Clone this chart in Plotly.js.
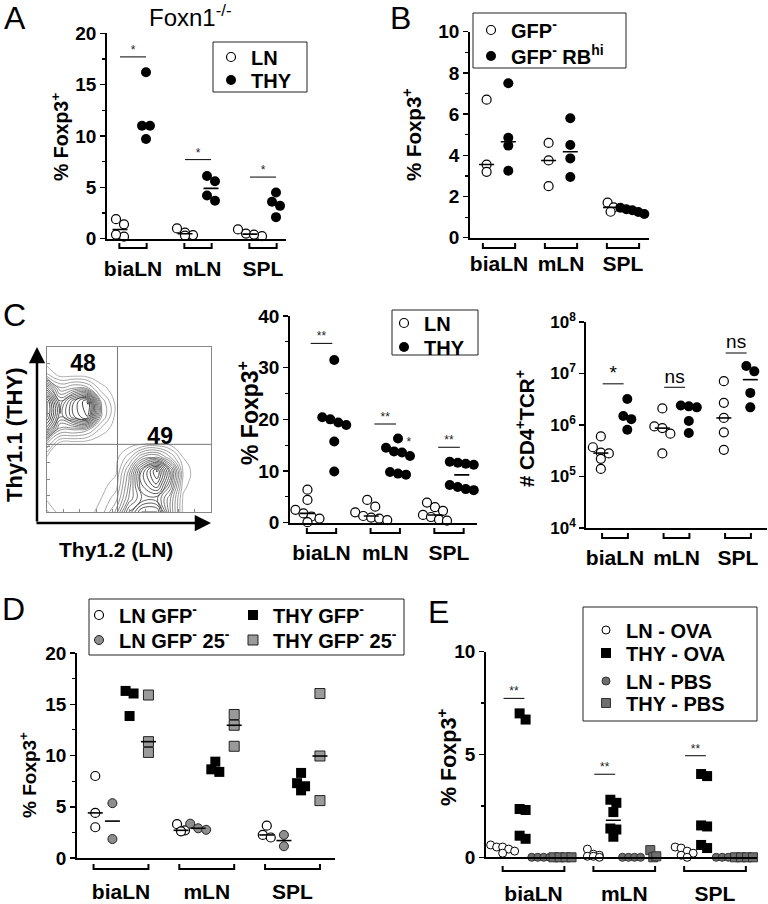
<!DOCTYPE html>
<html><head><meta charset="utf-8">
<script src="https://cdn.plot.ly/plotly-3.0.1.min.js"></script>
<style>html,body{margin:0;padding:0;background:#fff}#chart{width:768px;height:904px}</style>
</head><body><div id="chart"></div>
<script>
const W = 768, H = 904;
const F = '"Liberation Sans", Arial, Helvetica, sans-serif';

// ================= DATA =================
const cats = ['biaLN', 'mLN', 'SPL'];

// Panel A  (Foxn1-/-)  % Foxp3+
const A_LN  = [[1.4, 1.9, 0.2, 0.4], [0.6, 1.0, 0.35, 0.3], [0.5, 0.9, 0.25, 0.4]];
const A_THY = [[16.2, 11.0, 11.0, 9.7], [6.1, 5.6, 4.2, 3.7], [4.5, 3.6, 3.2, 2.1]];
const A_sig = [17.7, 7.7, 6.0];
const A_sigLabel = ['*', '*', '*'];

// Panel B  % Foxp3+
const B_GFPneg = [[6.7, 3.55, 3.2], [4.6, 3.75, 2.5], [1.7, 1.47, 1.26]];
const B_RBhi   = [[7.5, 4.85, 4.47, 3.25], [5.8, 4.5, 3.85, 2.95], [1.45, 1.38, 1.33, 1.25, 1.15]];

// Panel C (flow plot)
const C_flowX = [0, 8, 17, 25, 33, 42, 50, 58, 67, 75, 83, 92, 100];
const C_flowY = [0, 8, 17, 25, 33, 42, 50, 58, 67, 75, 83, 92, 100];
const C_flowZ = [
  [1.0, 0.1, 0.1, 0.2, 0.6, 2.0, 5.0, 7.0, 7.0, 3.0, 0.2, 0, 0],
  [0.3, 0, 0, 0.1, 0.4, 1.2, 3.5, 5.0, 5.0, 3.0, 0.3, 0, 0],
  [0.2, 0, 0, 0, 0.2, 0.6, 3.0, 6.0, 7.5, 4.5, 0.6, 0, 0],
  [0.2, 0, 0, 0, 0.1, 0.3, 2.5, 6.0, 8.5, 5.0, 0.8, 0, 0],
  [0.3, 0, 0, 0, 0, 0.2, 1.2, 3.0, 3.5, 2.0, 0.4, 0, 0],
  [2.0, 0.3, 0.2, 0.1, 0, 0, 0, 0.1, 0.2, 0.1, 0, 0, 0],
  [6.0, 2.5, 2.5, 2.0, 0.7, 0.1, 0, 0, 0, 0, 0, 0, 0],
  [8.0, 4.5, 6.5, 7.5, 2.0, 0.2, 0, 0, 0, 0, 0, 0, 0],
  [8.0, 4.0, 6.5, 8.0, 1.8, 0.2, 0, 0, 0, 0, 0, 0, 0],
  [5.0, 2.0, 2.5, 2.0, 0.6, 0.1, 0, 0, 0, 0, 0, 0, 0],
  [1.0, 0.2, 0.2, 0.1, 0, 0, 0, 0, 0, 0, 0, 0, 0],
  [0, 0, 0, 0, 0, 0, 0, 0, 0, 0, 0, 0, 0],
  [0, 0, 0, 0, 0, 0, 0, 0, 0, 0, 0, 0, 0]
];
const C_gateX = 43, C_gateY = 41;
const C_quadLabels = ['48', '49'];
const C_quadPos = [[22, 89], [69, 45]];

// Panel C (middle)  % Foxp3+
const C_LN  = [[6.4, 4.4, 2.5, 1.8, 1.2, 0.8, 0.1], [4.4, 3.1, 2.0, 1.3, 1.0, 0.8, 0.5], [3.9, 3.0, 2.3, 1.5, 1.1, 0.6, 0.4]];
const C_THY = [[31.5, 20.4, 20.0, 19.4, 18.9, 15.7, 9.9], [16.3, 14.5, 13.8, 13.6, 12.9, 9.8, 9.5, 9.3], [11.8, 11.6, 11.4, 11.2, 7.3, 6.9, 6.5, 6.3]];
const C_sig = [34.7, 19.1, 14.6];
const C_sigLabel = ['**', '**', '**'];

// Panel C (right)  # CD4+TCR+
const N_LN  = [[6.0e5, 3.7e5, 2.9e5, 2.8e5, 2.2e5, 1.4e5], [2.1e6, 9.4e5, 8.7e5, 6.8e5, 2.8e5], [7.1e6, 2.7e6, 1.37e6, 7.2e5, 3.3e5]];
const N_THY = [[3.2e6, 1.5e6, 1.3e6, 8.1e5], [2.4e6, 2.3e6, 2.2e6, 1.2e6, 7.0e5], [1.4e7, 1.1e7, 4.2e6, 2.2e6]];
const N_sig = [6.3e6, 5.4e6, 2.5e7];
const N_sigLabel = ['*', 'ns', 'ns'];
const N_tickVals = [1e4, 1e5, 1e6, 1e7, 1e8];
const N_tickText = ['10<sup>4</sup>', '10<sup>5</sup>', '10<sup>6</sup>', '10<sup>7</sup>', '10<sup>8</sup>'];

// Panel D  % Foxp3+
const D_LNgfp  = [[8.0, 4.4, 3.0], [3.3, 2.7, 2.6], [3.15, 2.25, 2.0]];
const D_LN25   = [[5.35, 1.85], [3.35, 2.9, 2.75], [2.25, 1.15]];
const D_THYgfp = [[16.3, 16.05, 13.85], [9.4, 8.65, 8.4], [8.3, 7.3, 7.0, 6.6]];
const D_THY25  = [[15.9, 11.35, 10.3], [14.0, 12.95, 10.9], [16.05, 9.95, 5.6]];

// Panel E  % Foxp3+
const E_LNova  = [[0.6, 0.5, 0.5, 0.4, 0.3, 0.2], [0.4, 0.15, 0.1, 0.05, 0.05, 0.0], [0.5, 0.45, 0.3, 0.2, 0.1, 0.0]];
const E_THYova = [[7.0, 6.7, 2.35, 2.3, 1.05, 0.9], [2.8, 2.65, 2.2, 1.4, 1.35, 1.0], [4.05, 3.95, 1.55, 1.5, 0.6, 0.45]];
const E_LNpbs  = [[0, 0, 0, 0], [0, 0, 0, 0], [0, 0, 0]];
const E_THYpbs = [[0, 0, 0, 0], [0.35, 0, 0.05], [0, 0, 0, 0]];
const E_sig = [7.73, 4.04, 4.94];
const E_sigLabel = ['**', '**', '**'];

// ================= GEOMETRY / STYLE =================
function fx(p) { return p / W; }
function fy(p) { return 1 - p / H; }

const G = {
  A:  {s: '',  xpx: [107, 286], ypx: [33.3, 238.7], c0: 133,   step: 65,    yr: [0, 20], dtick: 5,  minor: 2.5, dot: 8, bin: 7, brY: 248, brW: 0.21, lab: 10},
  B:  {s: '2', xpx: [470, 649], ypx: [31.7, 237.7], c0: 499,   step: 62,    yr: [0, 10], dtick: 2,  minor: 1,   dot: 6, bin: 7, brY: 248, brW: 0.26, lab: 6},
  C:  {s: '4', xpx: [290, 477], ypx: [316, 522.7],  c0: 321.5, step: 63.75, yr: [0, 40], dtick: 10, minor: 5,   dot: 8, bin: 9, brY: 533, brW: 0.23, lab: 10},
  N:  {s: '5', xpx: [586, 767], ypx: [322, 528],    c0: 615,   step: 61.5,  yr: [1e4, 1e8], log: true,        dot: 8, bin: 8, brY: 538, brW: 0.21, lab: 10},
  D:  {s: '6', xpx: [77, 335],  ypx: [653, 858],    c0: 121,   step: 85.75, yr: [0, 20], dtick: 5,  minor: 2.5, dot: 8, bin: 7, brY: 869, brW: 0.32, lab: 14},
  E:  {s: '7', xpx: [486, 757], ypx: [651.7, 857.3],c0: 533.5, step: 90.75, yr: [0, 10], dtick: 5,  minor: 2.5, dot: 6, bin: 7, brY: 871, brW: 0.34, lab: 17}
};
Object.values(G).forEach(g => {
  g.xa = 'x' + g.s; g.ya = 'y' + g.s;
  const span = g.log ? (Math.log10(g.yr[1]) - Math.log10(g.yr[0])) : (g.yr[1] - g.yr[0]);
  g.pyU = (g.ypx[1] - g.ypx[0]) / span;
  g.medHalf = 7.5;
});

const MK = {
  open:   {symbol: 'circle', size: 9,  color: '#fff', line: {color: '#000', width: 1.2}},
  fill:   {symbol: 'circle', size: 10, color: '#000', line: {color: '#000', width: 0}},
  grayC:  {symbol: 'circle', size: 9,  color: '#8e8e8e', line: {color: '#222', width: 1}},
  blackS: {symbol: 'square', size: 10, color: '#000', line: {color: '#000', width: 0}},
  grayS:  {symbol: 'square', size: 10, color: '#9a9a9a', line: {color: '#222', width: 1}},
  openE:  {symbol: 'circle', size: 8,  color: '#fff', line: {color: '#000', width: 1}},
  grayCE: {symbol: 'circle', size: 8,  color: '#6e6e6e', line: {color: '#333', width: 1}},
  graySE: {symbol: 'square', size: 9,  color: '#6e6e6e', line: {color: '#333', width: 1}}
};

function med(a) { const s = [...a].sort((x, y) => x - y); const n = s.length; return n % 2 ? s[(n - 1) / 2] : (s[n / 2 - 1] + s[n / 2]) / 2; }

// Prism-like column scatter: values in the same vertical bin are spread horizontally
function swarm(vals, center, g) {
  const toPx = v => (g.log ? Math.log10(Math.max(v, 1)) : v) * g.pyU;
  const order = vals.map((v, i) => i).sort((a, b) => vals[b] - vals[a]);
  const out = new Array(vals.length);
  const bins = []; let cur = [], top = null;
  order.forEach(i => {
    const p = toPx(vals[i]);
    if (top === null || top - p > g.bin) { if (cur.length) bins.push(cur); cur = [i]; top = p; }
    else cur.push(i);
  });
  if (cur.length) bins.push(cur);
  bins.forEach(b => b.forEach((i, k) => { out[i] = center + (k - (b.length - 1) / 2) * g.dot / g.step; }));
  return out;
}

const traces = [];
function series(g, groups, off, mk, name, legend) {
  const xs = [], ys = [];
  groups.forEach((vals, i) => { const xx = swarm(vals, i + off, g); vals.forEach((v, k) => { xs.push(xx[k]); ys.push(v); }); });
  traces.push({type: 'scatter', mode: 'markers', x: xs, y: ys, xaxis: g.xa, yaxis: g.ya, marker: mk,
    name: name, legend: legend || 'legend', showlegend: !!legend, cliponaxis: false, hoverinfo: 'skip'});
}
function medians(g, groups, off) {
  const xs = [], ys = []; const h = g.medHalf / g.step;
  groups.forEach((vals, i) => { const m = med(vals); xs.push(i + off - h, i + off + h, null); ys.push(m, m, null); });
  traces.push({type: 'scatter', mode: 'lines', x: xs, y: ys, xaxis: g.xa, yaxis: g.ya,
    line: {color: '#000', width: 1.6}, showlegend: false, cliponaxis: false, hoverinfo: 'skip'});
}
function sig(g, vals, labels, offL, offR, font) {
  const xs = [], ys = [];
  vals.forEach((v, i) => { xs.push(i + offL, i + offR, null); ys.push(v, v, null); });
  traces.push({type: 'scatter', mode: 'lines', x: xs, y: ys, xaxis: g.xa, yaxis: g.ya,
    line: {color: '#000', width: 1}, showlegend: false, cliponaxis: false, hoverinfo: 'skip'});
  traces.push({type: 'scatter', mode: 'text', x: vals.map((v, i) => i + (offL + offR) / 2), y: vals, text: labels,
    textposition: 'top center', textfont: font, xaxis: g.xa, yaxis: g.ya, showlegend: false, cliponaxis: false, hoverinfo: 'skip'});
}

const starFont = {family: F, size: 12, color: '#222'};
const nsFont = {family: F, size: 19, color: '#000'};

// ---- Panel A ----
series(G.A, A_LN, -0.2, MK.open, 'LN', 'legend');
series(G.A, A_THY, 0.2, MK.fill, 'THY', 'legend2');
medians(G.A, A_LN, -0.2); medians(G.A, A_THY, 0.2);
sig(G.A, A_sig, A_sigLabel, -0.2, 0.2, starFont);

// ---- Panel B ----
series(G.B, B_GFPneg, -0.2, MK.open, 'GFP<sup>-</sup>', 'legend3');
series(G.B, B_RBhi, 0.15, MK.fill, 'GFP<sup>-</sup> RB<sup>hi</sup>', 'legend4');
medians(G.B, B_GFPneg, -0.2); medians(G.B, B_RBhi, 0.15);

// ---- Panel C flow ----
traces.push({type: 'contour', x: C_flowX, y: C_flowY, z: C_flowZ, xaxis: 'x3', yaxis: 'y3',
  contours: {coloring: 'lines', start: 0.4, end: 9, size: 0.5}, line: {width: 0.8, smoothing: 1.3},
  colorscale: [[0, '#9a9a9a'], [0.5, '#444'], [1, '#000']], showscale: false, hoverinfo: 'skip'});
traces.push({type: 'scatter', mode: 'text', x: C_quadPos.map(p => p[0]), y: C_quadPos.map(p => p[1]), text: C_quadLabels,
  textfont: {family: F, size: 23, color: '#000', weight: 'bold'}, xaxis: 'x3', yaxis: 'y3', showlegend: false, hoverinfo: 'skip', cliponaxis: false});

// ---- Panel C middle ----
series(G.C, C_LN, -0.22, MK.open, 'LN', 'legend5');
series(G.C, C_THY, 0.2, MK.fill, 'THY', 'legend6');
medians(G.C, C_LN, -0.22); medians(G.C, C_THY, 0.2);
sig(G.C, C_sig, C_sigLabel, -0.17, 0.17, starFont);

// ---- Panel C right ----
series(G.N, N_LN, -0.23, MK.open, 'LN', null);
series(G.N, N_THY, 0.2, MK.fill, 'THY', null);
medians(G.N, N_LN, -0.23); medians(G.N, N_THY, 0.2);
sig(G.N, N_sig, N_sigLabel, -0.2, 0.14, nsFont);

// ---- Panel D ----
series(G.D, D_LNgfp, -0.3, MK.open, 'LN GFP<sup>-</sup>', 'legend7');
series(G.D, D_LN25, -0.1, MK.grayC, 'LN GFP<sup>-</sup> 25<sup>-</sup>', 'legend8');
series(G.D, D_THYgfp, 0.1, MK.blackS, 'THY GFP<sup>-</sup>', 'legend9');
series(G.D, D_THY25, 0.32, MK.grayS, 'THY GFP<sup>-</sup> 25<sup>-</sup>', 'legend10');
medians(G.D, D_LNgfp, -0.3); medians(G.D, D_LN25, -0.1); medians(G.D, D_THYgfp, 0.1); medians(G.D, D_THY25, 0.32);

// ---- Panel E ----
series(G.E, E_LNova, -0.34, MK.openE, 'LN - OVA', 'legend11');
series(G.E, E_THYova, -0.12, MK.blackS, 'THY - OVA', 'legend12');
series(G.E, E_LNpbs, 0.08, MK.grayCE, 'LN - PBS', 'legend13');
series(G.E, E_THYpbs, 0.32, MK.graySE, 'THY - PBS', 'legend14');
medians(G.E, E_THYova, -0.12);
sig(G.E, E_sig, E_sigLabel, -0.33, -0.1, starFont);

// ================= LAYOUT =================
const layout = {
  width: W, height: H, margin: {l: 0, r: 0, t: 0, b: 0}, paper_bgcolor: '#fff', plot_bgcolor: 'rgba(0,0,0,0)',
  font: {family: F, color: '#000'}, showlegend: true, hovermode: false,
  shapes: [], annotations: []
};

const tickFont = {family: F, size: 19, color: '#000', weight: 'bold'};
const catFont = {family: F, size: 21, color: '#000', weight: 'bold'};

Object.values(G).forEach(g => {
  const xr = [(g.xpx[0] - g.c0) / g.step, (g.xpx[1] - g.c0) / g.step];
  layout['xaxis' + g.s] = {domain: [fx(g.xpx[0]), fx(g.xpx[1])], anchor: g.ya, range: xr, showline: true, linecolor: '#000', linewidth: 1.8,
    ticks: '', tickvals: [0, 1, 2], ticktext: cats, tickfont: catFont, ticklabelstandoff: g.lab, showgrid: false, zeroline: false, fixedrange: true};
  const ya = {domain: [fy(g.ypx[1]), fy(g.ypx[0])], anchor: g.xa, showline: true, linecolor: '#000', linewidth: 1.8,
    ticks: 'outside', ticklen: 5, tickwidth: 1.5, tickcolor: '#000', tickfont: tickFont, showgrid: false, zeroline: false, fixedrange: true};
  if (g.log) {
    Object.assign(ya, {type: 'log', range: [Math.log10(g.yr[0]), Math.log10(g.yr[1])], tickvals: N_tickVals, ticktext: N_tickText,
      tickfont: {family: F, size: 17, color: '#000', weight: 'bold'}});
  } else {
    Object.assign(ya, {range: g.yr, dtick: g.dtick, tick0: 0, minor: {dtick: g.minor, ticks: 'outside', ticklen: 3, tickwidth: 1.2, tickcolor: '#000'}});
  }
  layout['yaxis' + g.s] = ya;
  [0, 1, 2].forEach(i => {
    layout.shapes.push({type: 'path', xref: g.xa, yref: 'paper',
      path: `M ${i - g.brW},${fy(g.brY - 5)} L ${i - g.brW},${fy(g.brY)} L ${i + g.brW},${fy(g.brY)} L ${i + g.brW},${fy(g.brY - 5)}`,
      line: {color: '#000', width: 2}});
  });
});

// flow plot axes
layout.xaxis3 = {domain: [fx(47), fx(211)], anchor: 'y3', range: [0, 100], showline: true, mirror: true, linecolor: '#888', linewidth: 1,
  ticks: 'inside', ticklen: 3, dtick: 10, tickcolor: '#888', showticklabels: false, showgrid: false, zeroline: false, fixedrange: true};
layout.yaxis3 = {domain: [fy(512), fy(347)], anchor: 'x3', range: [0, 100], showline: true, mirror: true, linecolor: '#888', linewidth: 1,
  ticks: 'inside', ticklen: 3, dtick: 10, tickcolor: '#888', showticklabels: false, showgrid: false, zeroline: false, fixedrange: true};
layout.shapes.push({type: 'line', xref: 'x3', yref: 'y3', x0: C_gateX, x1: C_gateX, y0: 0, y1: 100, line: {color: '#777', width: 1}});
layout.shapes.push({type: 'line', xref: 'x3', yref: 'y3', x0: 0, x1: 100, y0: C_gateY, y1: C_gateY, line: {color: '#777', width: 1}});

// legend frames (paper px boxes)
[[213, 42, 307, 92], [473, 13, 626, 68], [392, 310, 478, 355], [89, 599, 404, 655], [583, 607, 757, 721]].forEach(b => {
  layout.shapes.push({type: 'rect', xref: 'paper', yref: 'paper', x0: fx(b[0]), x1: fx(b[2]), y0: fy(b[3]), y1: fy(b[1]), line: {color: '#222', width: 1}});
});

// one-entry legends: [marker centre x px, row centre y px]
const legFont = {family: F, size: 20, color: '#000', weight: 'bold'};
function leg(mx, cy) {
  return {x: fx(mx - 16), y: fy(cy), xanchor: 'left', yanchor: 'middle', bgcolor: 'rgba(0,0,0,0)', borderwidth: 0,
    font: legFont, itemwidth: 30, tracegroupgap: 0, valign: 'middle'};
}
layout.legend   = leg(227, 57);
layout.legend2  = leg(227, 80);
layout.legend3  = leg(487, 30);
layout.legend4  = leg(487, 56);
layout.legend5  = leg(400, 323);
layout.legend6  = leg(400, 347);
layout.legend7  = leg(95, 615);
layout.legend8  = leg(95, 640);
layout.legend9  = leg(249, 615);
layout.legend10 = leg(249, 640);
layout.legend11 = leg(602, 630);
layout.legend12 = leg(602, 653);
layout.legend13 = leg(602, 681);
layout.legend14 = leg(602, 703);

// text annotations
function ann(text, xp, yp, font, extra) {
  layout.annotations.push(Object.assign({text: text, x: fx(xp), y: fy(yp), xref: 'paper', yref: 'paper', showarrow: false,
    xanchor: 'center', yanchor: 'middle', font: font}, extra || {}));
}
const letterFont = {family: F, size: 32, color: '#000'};
ann('A', 15, 18, letterFont); ann('B', 400, 18, letterFont); ann('C', 14, 315, letterFont);
ann('D', 13, 609, letterFont); ann('E', 438, 612, letterFont);
ann('Foxn1<sup>-/-</sup>', 190, 16, {family: F, size: 24, color: '#000'});

function ytf(sz) { return {family: F, size: sz, color: '#000', weight: 'bold'}; }
ann('% Foxp3<sup>+</sup>', 60, 137, ytf(19.5), {textangle: -90});
ann('% Foxp3<sup>+</sup>', 412, 135, ytf(20.5), {textangle: -90});
ann('% Foxp3<sup>+</sup>', 248, 413, ytf(23), {textangle: -90});
ann('# CD4<sup>+</sup>TCR<sup>+</sup>', 525, 429, ytf(20.5), {textangle: -90});
ann('% Foxp3<sup>+</sup>', 28, 775, ytf(19), {textangle: -90});
ann('% Foxp3<sup>+</sup>', 447, 758, ytf(21.5), {textangle: -90});

const flowFont = {family: F, size: 21, color: '#000', weight: 'bold'};
ann('Thy1.1 (THY)', 15, 435, ytf(22), {textangle: -90});
ann('Thy1.2 (LN)', 116, 549, flowFont);
// axis arrows
layout.annotations.push({text: '', x: fx(37), y: fy(347), xref: 'paper', yref: 'paper', showarrow: true, ax: 0, ay: 176,
  arrowhead: 2, arrowsize: 1.3, arrowwidth: 2.5, arrowcolor: '#000'});
layout.annotations.push({text: '', x: fx(211), y: fy(523), xref: 'paper', yref: 'paper', showarrow: true, ax: -176, ay: 0,
  arrowhead: 2, arrowsize: 1.3, arrowwidth: 2.5, arrowcolor: '#000'});
// stray star in panel C middle
traces.push({type: 'scatter', mode: 'text', x: [1.37], y: [15.4], text: ['*'], textfont: starFont, xaxis: 'x4', yaxis: 'y4', showlegend: false, hoverinfo: 'skip'});

Plotly.newPlot('chart', traces, layout, {staticPlot: true, displayModeBar: false});
</script>
</body></html>
